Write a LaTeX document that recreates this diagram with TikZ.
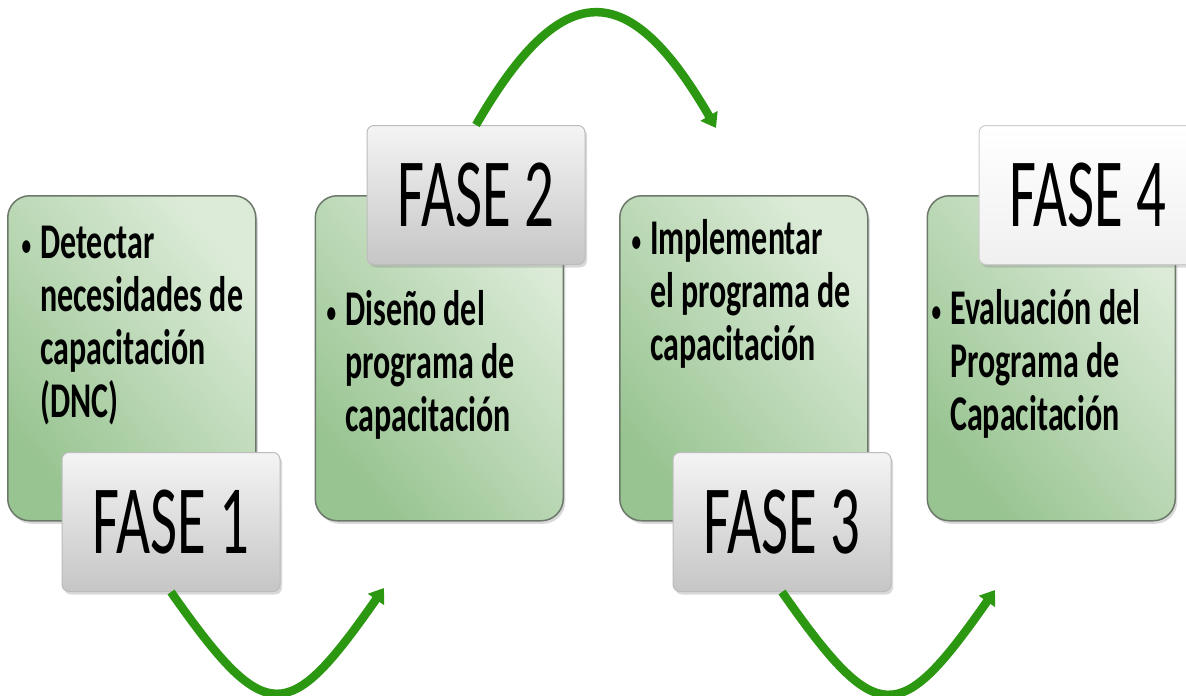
\documentclass[tikz,border=0pt]{standalone}
\usepackage{fontspec}
\newfontfamily\itemfont{Carlito}[FakeStretch=0.64]
\newfontfamily\phasefont{Carlito}[FakeStretch=0.6]
\usetikzlibrary{positioning}
\usetikzlibrary{shadows}
\usetikzlibrary{arrows.meta}
\definecolor{boxdark}{RGB}{152,196,145}
\definecolor{boxlight}{RGB}{220,235,216}
\definecolor{boxline}{RGB}{108,120,106}
\definecolor{arrowgreen}{RGB}{44,152,18}
\definecolor{tabtop}{RGB}{244,244,244}
\definecolor{tabbottom}{RGB}{198,198,198}
\definecolor{tabline}{RGB}{188,188,188}

\tikzset{
  phasebox/.style={draw=boxline, line width=1.5pt, rounded corners=22pt,
    minimum width=248pt, minimum height=325pt, anchor=north west,
    top color=boxlight, bottom color=boxdark, shading angle=-50,
    drop shadow={shadow xshift=2pt, shadow yshift=-3pt, opacity=.3}},
  phasetab/.style={draw=tabline, line width=1pt, rounded corners=7pt,
    minimum width=218pt, minimum height=139pt, inner sep=0pt,
    top color=tabtop, bottom color=tabbottom,
    font=\phasefont\fontsize{98}{98}\selectfont,
    drop shadow={shadow xshift=2pt, shadow yshift=-3pt, opacity=.3}},
  lasttab/.style={top color=white, bottom color=black!6, draw=black!20},
  % base anchor sits on the last line
  itemtext/.style={anchor=base west, inner sep=0pt, align=left,
    font=\itemfont\bfseries\fontsize{50}{53}\selectfont},
  turnarrow/.style={draw=arrowgreen, line width=8.5pt,
    -{Triangle[length=14pt,width=19pt]}}
}
\newcommand{\bul}{\llap{\raisebox{3pt}{\scalebox{.6}{\textbullet}}\hspace{9pt}}}

\begin{document}
\begin{tikzpicture}[x=1pt,y=1pt]
\useasboundingbox (0,0) rectangle (1186,-696);

% phase boxes
\node[phasebox] (box1) at (7,-195) {};
\node[phasebox, right=58pt of box1] (box2) {};
\node[phasebox, right=55pt of box2] (box3) {};
\node[phasebox, right=58pt of box3] (box4) {};

\node[itemtext] (txt1) at (40,-417) {\bul Detectar\\necesidades de\\capacitación\\(DNC)};
\node[itemtext] (txt2) at (345,-431) {\bul Diseño del\\programa de\\capacitación};
\node[itemtext] (txt3) at (650,-360) {\bul Implementar\\el programa de\\capacitación};
\node[itemtext] (txt4) at (950,-430) {\bul Evaluación del\\Programa de\\Capacitación};

% tabs
\node[phasetab] (fase1) at (171,-522) {FASE 1};
\node[phasetab] (fase2) at (476,-195) {FASE 2};
\node[phasetab] (fase3) at (782,-522) {FASE 3};
\node[phasetab, lasttab] (fase4) at (1088,-195) {FASE 4};

% arrows
\coordinate (end1) at (384,-588);
\coordinate (end2) at (716,-128);
\coordinate (end3) at (995,-590);
\draw[turnarrow] (fase1.south) to[out=-55, in=-125, looseness=2] (end1);
\draw[turnarrow] (fase2.north) to[out=60, in=120, looseness=1.85] (end2);
\draw[turnarrow] (fase3.south) to[out=-55, in=-125, looseness=2] (end3);
\end{tikzpicture}
\end{document}
